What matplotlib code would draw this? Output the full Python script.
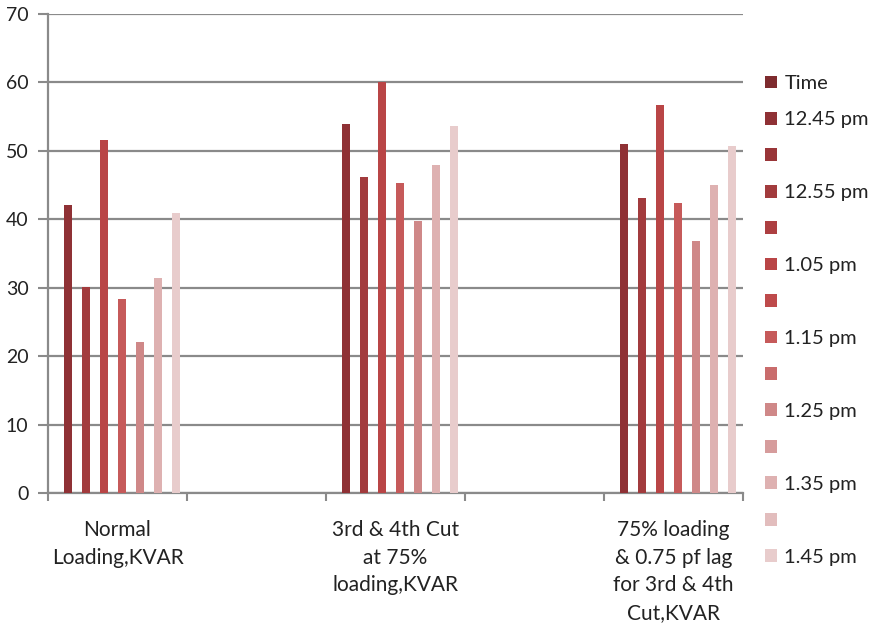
import numpy as np
import matplotlib
matplotlib.use("Agg")
import matplotlib.pyplot as plt
from matplotlib.patches import Patch

plt.rcParams['font.family'] = ['Lato', 'DejaVu Sans']

categories = ["Normal\nLoading,KVAR", "", "3rd & 4th Cut\nat 75%\nloading,KVAR", "",
              "75% loading\n& 0.75 pf lag\nfor 3rd & 4th\nCut,KVAR"]
series_labels = ["Time", "12.45 pm", "", "12.55 pm", "", "1.05 pm", "", "1.15 pm", "",
                 "1.25 pm", "", "1.35 pm", "", "1.45 pm"]

nan = np.nan
time_vals = [nan, nan, nan, nan, nan]
blank_vals = [nan, nan, nan, nan, nan]
v_1245 = [42.1, nan, 53.9, nan, 51.0]
v_1255 = [30.1, nan, 46.2, nan, 43.2]
v_0105 = [51.6, nan, 60.0, nan, 56.7]
v_0115 = [28.4, nan, 45.3, nan, 42.4]
v_0125 = [22.1, nan, 39.8, nan, 36.8]
v_0135 = [31.5, nan, 48.0, nan, 45.0]
v_0145 = [41.0, nan, 53.7, nan, 50.7]

series_values = [time_vals, v_1245, blank_vals, v_1255, blank_vals, v_0105, blank_vals,
                 v_0115, blank_vals, v_0125, blank_vals, v_0135, blank_vals, v_0145]

colors = ["#7E2B2E", "#8F3135", "#993538", "#A23B3D", "#AD3F41", "#B94546", "#BE4A4B",
          "#C65A5A", "#C96C6C", "#CF8888", "#D69C9C", "#DEB1B1", "#E2BDBD", "#E8CCCC"]

fig = plt.figure(figsize=(8.8, 6.33), dpi=100)
ax = fig.add_axes([48/880, 1-493.3/633, (743-48)/880, (493.3-14)/633])

n = len(series_values)
w = 1.0 / (n + 1.5)
x = np.arange(len(categories))
for i, vals in enumerate(series_values):
    pos = x - n*w/2 + (i + 0.5)*w
    ax.bar(pos, vals, width=w*0.92, color=colors[i], zorder=3)

ax.set_xlim(-0.5, len(categories) - 0.5)
ax.set_ylim(0, 70)
ax.set_yticks(np.arange(0, 71, 10))
ax.yaxis.grid(True, color="#8A8A8A", linewidth=1.6, zorder=0)
ax.set_axisbelow(True)

ax.set_xticks(np.arange(-0.5, len(categories), 1.0))
ax.set_xticklabels([])
ax.set_xticks(x, minor=True)
ax.set_xticklabels(categories, minor=True, fontsize=15, linespacing=1.49, va="top",
                   color="#222222")
ax.tick_params(axis="x", which="minor", length=0, pad=19)
ax.tick_params(axis="x", which="major", direction="out", length=6, color="#8A8A8A", width=1.5)
ax.tick_params(axis="y", direction="out", length=7, color="#8A8A8A", width=1.5,
               labelsize=14, pad=7, labelcolor="#222222")

for s in ["top", "right"]:
    ax.spines[s].set_visible(False)
for s in ["left", "bottom"]:
    ax.spines[s].set_color("#8A8A8A")
    ax.spines[s].set_linewidth(1.6)

handles = [Patch(facecolor=c, edgecolor="none") for c in colors]
leg = fig.legend(handles, series_labels, loc="upper left", bbox_to_anchor=(765/880, 1-75/633),
                 frameon=False, fontsize=14.5, handlelength=0.6, handleheight=0.6,
                 handletextpad=0.36, labelspacing=0.965, borderpad=0, borderaxespad=0)
for t in leg.get_texts():
    t.set_color("#222222")

fig.savefig("out.png", dpi=100)
